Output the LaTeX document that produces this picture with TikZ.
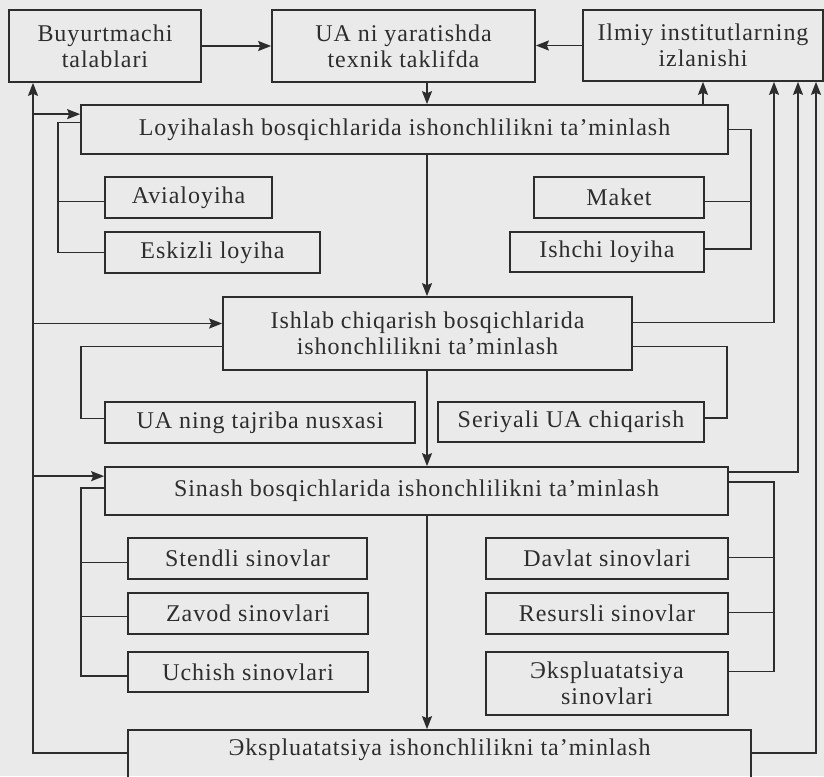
\documentclass[tikz,border=0pt]{standalone}
\usepackage{fontspec}
\setmainfont[LetterSpace=4]{Liberation Serif}
\usetikzlibrary{arrows.meta,calc}
\definecolor{bg}{RGB}{234,234,234}
\definecolor{ink}{RGB}{45,45,45}
\begin{document}
\begin{tikzpicture}[x=1pt,y=-1pt,
  box/.style={draw=ink,line width=1.7pt,inner sep=0pt,align=center,text=ink,
    font=\fontsize{24}{26}\selectfont},
  ln/.style={draw=ink,line width=1.6pt},
  arr/.style={ln,-{Stealth[length=13pt,width=10pt,inset=2pt]}}]
\useasboundingbox (0,0) rectangle (824,776);
\fill[bg] (0,0) rectangle (824,776);
% nodes
\node[box,minimum width=192pt,minimum height=72pt] (buy) at (105,46) {Buyurtmachi\\talablari};
\node[box,minimum width=263pt,minimum height=72pt] (ua) at (403.5,46) {UA ni yaratishda\\texnik taklifda};
\node[box,minimum width=240pt,minimum height=71pt] (ilm) at (703,45.5) {Ilmiy institutlarning\\izlanishi};
\node[box,minimum width=647pt,minimum height=49pt] (lo) at (404.5,129.5) {Loyihalash bosqichlarida ishonchlilikni ta’minlash};
\node[box,minimum width=167pt,minimum height=41pt] (avi) at (188.5,197.5) {Avialoyiha};
\node[box,minimum width=215pt,minimum height=41pt] (esk) at (212.5,252.5) {Eskizli loyiha};
\node[box,minimum width=170pt,minimum height=41pt] (mak) at (619,197.5) {Maket};
\node[box,minimum width=194pt,minimum height=40pt] (ish) at (607,252) {Ishchi loyiha};
\node[box,minimum width=409pt,minimum height=73pt] (isl) at (427.5,333.5) {Ishlab chiqarish bosqichlarida\\ishonchlilikni ta’minlash};
\node[box,minimum width=310pt,minimum height=41pt] (taj) at (260,422.5) {UA ning tajriba nusxasi};
\node[box,minimum width=266pt,minimum height=40pt] (ser) at (571,422) {Seriyali UA chiqarish};
\node[box,minimum width=623pt,minimum height=48pt] (sin) at (416.5,491) {Sinash bosqichlarida ishonchlilikni ta’minlash};
\node[box,minimum width=239pt,minimum height=41pt] (ste) at (247.5,558.5) {Stendli sinovlar};
\node[box,minimum width=240pt,minimum height=41pt] (zav) at (248,613.5) {Zavod sinovlari};
\node[box,minimum width=240pt,minimum height=40pt] (uch) at (248,672) {Uchish sinovlari};
\node[box,minimum width=242pt,minimum height=41pt] (dav) at (607,558.5) {Davlat sinovlari};
\node[box,minimum width=242pt,minimum height=41pt] (res) at (607,613.5) {Resursli sinovlar};
\node[box,minimum width=242pt,minimum height=63pt] (eks) at (607,683.5) {Эkspluatatsiya\\sinovlari};
\node[box,minimum width=623pt,minimum height=50pt,text depth=16pt] (ekp) at (439.5,755) {Эkspluatatsiya ishonchlilikni ta’minlash};
% helper x positions
\coordinate (cx) at (427,0);
\coordinate (xL) at (33,0);
\coordinate (xA) at (58,0);
\coordinate (xB) at (81,0);
\coordinate (xR1) at (751,0);
\coordinate (xR2) at (727,0);
\coordinate (xR3) at (774,0);
\coordinate (xR4) at (798,0);
\coordinate (xR5) at (816,0);
% main flow
\draw[arr] (buy) -- (ua);
\draw[arr] (ilm.west) -- (ilm.west -| ua.east);
\draw[arr] (ua.south -| cx) -- (lo.north -| cx);
\draw[arr] (lo.south -| cx) -- (isl.north -| cx);
\draw[arr] (isl.south -| cx) -- (sin.north -| cx);
\draw[arr] (sin.south -| cx) -- (ekp.north -| cx);
\draw[arr] (lo.north -| ilm.south) -- (ilm.south);
% left outer feedback
\coordinate (f0) at ([yshift=2pt]ekp.west);
\draw[arr] (f0) -| (xL |- buy.south);
\coordinate (a1) at ([yshift=-10pt]lo.north west);
\draw[arr] (xL |- a1) -- (a1);
\coordinate (a2) at ([yshift=10pt]isl.west);
\draw[arr] (xL |- a2) -- (a2);
\coordinate (a3) at ([yshift=-10pt]sin.north west);
\draw[arr] (xL |- a3) -- (a3);
% design stage branches
\coordinate (b1) at ([yshift=7pt]lo.west);
\draw[ln] (b1) -| (xA |- esk.west) -- (esk.west);
\coordinate (b2) at ([yshift=-4pt]avi.west);
\draw[ln] (xA |- b2) -- (b2);
\coordinate (b3) at ([yshift=3pt]ish.east);
\draw[ln] (lo.east) -| (xR1 |- b3) -- (b3);
\coordinate (b4) at ([yshift=-4pt]mak.east);
\draw[ln] (xR1 |- b4) -- (b4);
% production stage branches
\coordinate (c1) at ([yshift=-13pt]isl.west);
\coordinate (c1e) at ([yshift=4pt]taj.west);
\draw[ln] (c1) -| (xB |- c1e) -- (c1e);
\coordinate (c2) at ([yshift=-13pt]isl.east);
\coordinate (c2e) at ([yshift=4pt]ser.east);
\draw[ln] (c2) -| (xR2 |- c2e) -- (c2e);
\coordinate (c3) at ([yshift=11pt]isl.east);
\draw[arr] (c3) -| (xR3 |- ilm.south);
% test stage branches
\coordinate (d1) at ([yshift=3pt]sin.west);
\coordinate (d1e) at ([yshift=-4pt]uch.west);
\draw[ln] (d1) -| (xB |- d1e) -- (d1e);
\coordinate (d1s) at ([yshift=-4pt]ste.west);
\draw[ln] (xB |- d1s) -- (d1s);
\coordinate (d1z) at ([yshift=-3pt]zav.west);
\draw[ln] (xB |- d1z) -- (d1z);
\coordinate (d2) at ([yshift=9pt]sin.east);
\coordinate (d2e) at ([yshift=12pt]eks.east);
\draw[ln] (d2) -| (xR3 |- d2e) -- (d2e);
\coordinate (d2d) at ([yshift=1pt]dav.east);
\draw[ln] (xR3 |- d2d) -- (d2d);
\coordinate (d2r) at ([yshift=1pt]res.east);
\draw[ln] (xR3 |- d2r) -- (d2r);
\coordinate (d3) at ([yshift=19pt]sin.east);
\draw[arr] (d3) -| (xR4 |- ilm.south);
% exploitation feedback
\coordinate (g1) at ([yshift=2pt]ekp.east);
\draw[arr] (g1) -| (xR5 |- ilm.south);
\end{tikzpicture}
\end{document}
